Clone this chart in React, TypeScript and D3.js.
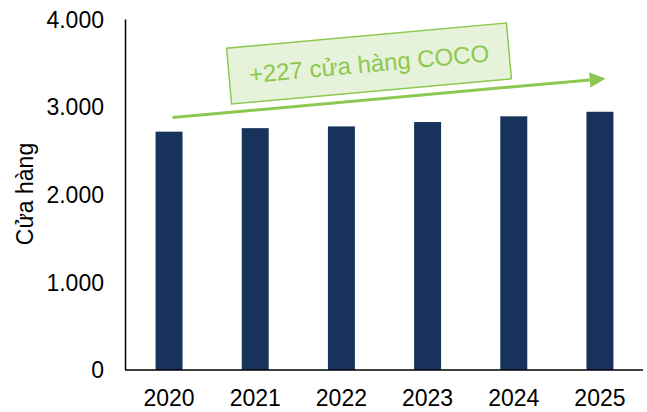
import React from "react";
import * as d3 from "d3";

const years = ["2020", "2021", "2022", "2023", "2024", "2025"];
const stores = [2720, 2760, 2780, 2830, 2895, 2947];
const yTicks = [0, 1000, 2000, 3000, 4000];
const yTickLabels = ["0", "1.000", "2.000", "3.000", "4.000"];
const yTitle = "Cửa hàng";
const annotation = "+227 cửa hàng COCO";

const W = 647;
const H = 412;
const FONT = "'Liberation Sans', Arial, sans-serif";
const BAR = "#17335b";
const GREEN = "#8cc850";

export default function App() {
  const x = d3.scaleBand<string>().domain(years).range([126, 643]).paddingInner(0.687).paddingOuter(0.343);
  const y = d3.scaleLinear().domain([0, 4000]).range([370, 19.5]);

  const arrowStart = [172.5, 117.5];
  const arrowTip = [605.7, 78.5];
  const ang = Math.atan2(arrowTip[1] - arrowStart[1], arrowTip[0] - arrowStart[0]);
  const deg = (ang * 180) / Math.PI;
  const headLen = 16;
  const headHalf = 7.5;
  const bx = arrowTip[0] - headLen * Math.cos(ang);
  const by = arrowTip[1] - headLen * Math.sin(ang);
  const px = -Math.sin(ang);
  const py = Math.cos(ang);
  const head = [
    [arrowTip[0], arrowTip[1]],
    [bx + px * headHalf, by + py * headHalf],
    [bx - px * headHalf, by - py * headHalf],
  ];

  const boxCx = 369;
  const boxCy = 63.5;
  const boxW = 281;
  const boxH = 56;

  return (
    <svg width={W} height={H} style={{ display: "block", position: "absolute", left: 0, top: 0 }} fontFamily={FONT}>
      <rect width={W} height={H} fill="#ffffff" />
      {years.map((yr, i) => (
        <rect
          key={yr}
          x={x(yr)!}
          y={y(stores[i])}
          width={x.bandwidth()}
          height={y(0) - y(stores[i])}
          fill={BAR}
        />
      ))}
      <line x1={125.5} x2={125.5} y1={y(4000)} y2={y(0)} stroke="#000" strokeWidth={1.5} />
      <line x1={125} x2={643} y1={y(0)} y2={y(0)} stroke="#000" strokeWidth={1.5} />
      {yTicks.map((t, i) => (
        <text key={t} x={104} y={y(t)} dy="0.36em" textAnchor="end" fontSize={23} fill="#000">
          {yTickLabels[i]}
        </text>
      ))}
      {years.map((yr) => (
        <text key={yr} x={x(yr)! + x.bandwidth() / 2} y={406} textAnchor="middle" fontSize={23} fill="#000">
          {yr}
        </text>
      ))}
      <text transform="translate(33,194) rotate(-90)" textAnchor="middle" fontSize={23} fill="#000">
        {yTitle}
      </text>
      <line x1={arrowStart[0]} y1={arrowStart[1]} x2={bx} y2={by} stroke={GREEN} strokeWidth={3} />
      <polygon points={head.map((p) => p.join(",")).join(" ")} fill={GREEN} />
      <g transform={`translate(${boxCx},${boxCy}) rotate(${deg})`}>
        <rect x={-boxW / 2} y={-boxH / 2} width={boxW} height={boxH} fill="#e6f3da" stroke={GREEN} strokeWidth={1.5} />
        <text x={0} y={0} dy="0.36em" textAnchor="middle" fontSize={24} fill={GREEN}>
          {annotation}
        </text>
      </g>
    </svg>
  );
}
